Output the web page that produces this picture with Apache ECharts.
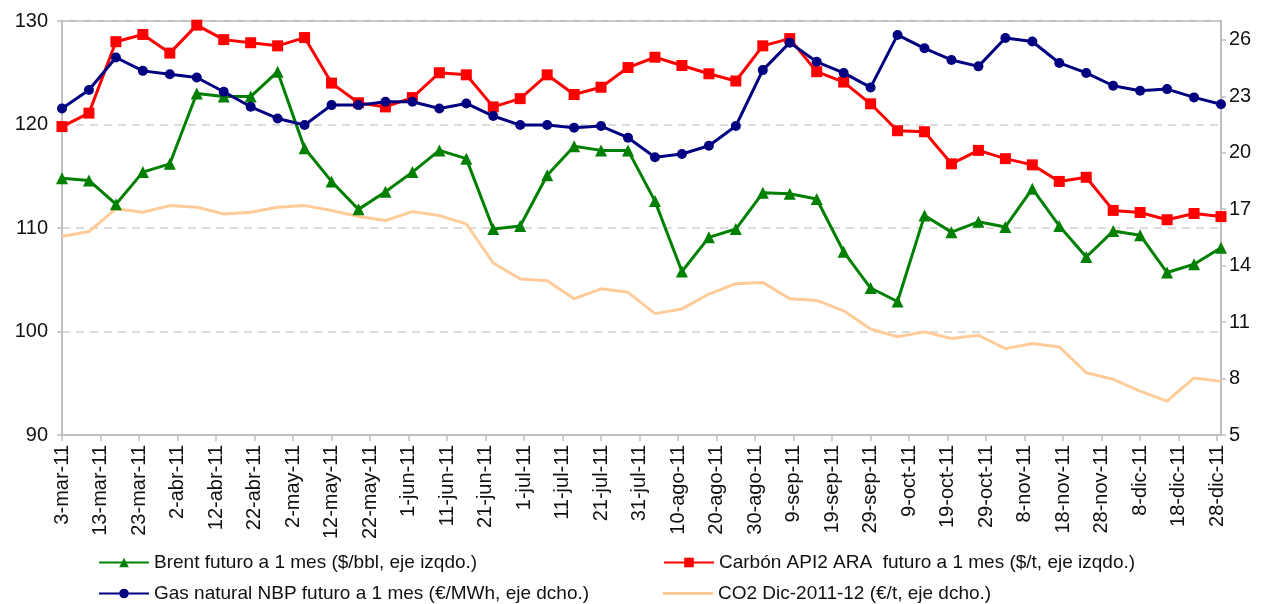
<!DOCTYPE html>
<html>
<head>
<meta charset="utf-8">
<script src="https://cdn.jsdelivr.net/npm/echarts@6/dist/echarts.min.js"></script>
<style>
  html, body { margin: 0; padding: 0; background: #fff; }
  #chart { width: 1263px; height: 604px; }
</style>
</head>
<body>
<div id="chart"></div>
<script>
// fechas semanales de los datos
var dates = [
  '2011-03-03', '2011-03-10', '2011-03-17', '2011-03-24', '2011-03-31',
  '2011-04-07', '2011-04-14', '2011-04-21', '2011-04-28',
  '2011-05-05', '2011-05-12', '2011-05-19', '2011-05-26',
  '2011-06-02', '2011-06-09', '2011-06-16', '2011-06-23', '2011-06-30',
  '2011-07-07', '2011-07-14', '2011-07-21', '2011-07-28',
  '2011-08-04', '2011-08-11', '2011-08-18', '2011-08-25',
  '2011-09-01', '2011-09-08', '2011-09-15', '2011-09-22', '2011-09-29',
  '2011-10-06', '2011-10-13', '2011-10-20', '2011-10-27',
  '2011-11-03', '2011-11-10', '2011-11-17', '2011-11-24',
  '2011-12-01', '2011-12-08', '2011-12-15', '2011-12-22', '2011-12-29'
];

// etiquetas del eje X, una cada 10 dias desde 3-mar-11
var xTickLabels = [
  '3-mar-11', '13-mar-11', '23-mar-11', '2-abr-11', '12-abr-11', '22-abr-11',
  '2-may-11', '12-may-11', '22-may-11', '1-jun-11', '11-jun-11', '21-jun-11',
  '1-jul-11', '11-jul-11', '21-jul-11', '31-jul-11', '10-ago-11', '20-ago-11',
  '30-ago-11', '9-sep-11', '19-sep-11', '29-sep-11', '9-oct-11', '19-oct-11',
  '29-oct-11', '8-nov-11', '18-nov-11', '28-nov-11', '8-dic-11', '18-dic-11',
  '28-dic-11'
];

// Brent ($/bbl, eje izqdo.)
var brent = [
  114.8, 114.6, 112.3, 115.4, 116.2, 123.0, 122.7, 122.7, 125.1, 117.7,
  114.5, 111.8, 113.5, 115.4, 117.5, 116.7, 109.9, 110.2, 115.1, 117.9,
  117.5, 117.5, 112.6, 105.8, 109.1, 109.9, 113.4, 113.3, 112.8, 107.7,
  104.2, 102.9, 111.2, 109.6, 110.6, 110.1, 113.8, 110.2, 107.2, 109.7,
  109.3, 105.7, 106.5, 108.1
];

// Carbon API2 ARA ($/t, eje izqdo.)
var carbon = [
  119.8, 121.1, 128.0, 128.7, 126.9, 129.6, 128.2, 127.9, 127.6, 128.4,
  124.0, 122.1, 121.7, 122.6, 125.0, 124.8, 121.7, 122.5, 124.8, 122.9,
  123.6, 125.5, 126.5, 125.7, 124.9, 124.2, 127.6, 128.3, 125.1, 124.1,
  122.0, 119.4, 119.3, 116.2, 117.5, 116.7, 116.1, 114.5, 114.9, 111.7,
  111.5, 110.8, 111.4, 111.1
];

// Gas natural NBP (€/MWh, eje dcho.)
var gas = [
  22.35, 23.33, 25.06, 24.35, 24.17, 24.00, 23.24, 22.44, 21.82, 21.47,
  22.53, 22.53, 22.71, 22.71, 22.35, 22.62, 21.95, 21.47, 21.47, 21.33,
  21.42, 20.80, 19.76, 19.93, 20.37, 21.42, 24.39, 25.85, 24.83, 24.24,
  23.47, 26.26, 25.55, 24.93, 24.59, 26.10, 25.91, 24.77, 24.24, 23.56,
  23.29, 23.38, 22.94, 22.58
];

// CO2 Dic-2011-12 (€/t, eje dcho.)
var co2 = [
  15.55, 15.81, 17.02, 16.84, 17.19, 17.10, 16.75, 16.84, 17.10, 17.19,
  16.93, 16.61, 16.40, 16.87, 16.66, 16.22, 14.14, 13.29, 13.20, 12.24,
  12.77, 12.58, 11.45, 11.70, 12.49, 13.04, 13.11, 12.24, 12.15, 11.60,
  10.63, 10.22, 10.48, 10.13, 10.30, 9.59, 9.86, 9.68, 8.31, 7.96,
  7.33, 6.80, 8.03, 7.85
];

var names = [
  'Brent futuro a 1 mes ($/bbl, eje izqdo.)',
  'Carbón API2 ARA  futuro a 1 mes ($/t, eje izqdo.)',
  'Gas natural NBP futuro a 1 mes (€/MWh, eje dcho.)',
  'CO2 Dic-2011-12 (€/t, eje dcho.)'
];

// dias desde 3-mar-11
var t0 = Date.UTC(2011, 2, 3);
function dayOf(s) {
  var p = s.split('-');
  return Math.round((Date.UTC(+p[0], +p[1] - 1, +p[2]) - t0) / 86400000);
}
function pairs(vals) {
  return vals.map(function (v, i) { return [dayOf(dates[i]), v]; });
}

var font = 'Liberation Sans, Arial, sans-serif';
var gray = '#bfbfbf';

// una leyenda por serie, en dos columnas
function legendItem(item, left, top, h) {
  return {
    data: [item], left: left, top: top, padding: 0,
    itemWidth: 50, itemHeight: h || 12, itemGap: 4,
    textStyle: { fontSize: 19, color: '#111', fontFamily: font }
  };
}

var chart = echarts.init(document.getElementById('chart'));
chart.setOption({
  animation: false,
  textStyle: { fontFamily: font },
  grid: {
    left: 62, right: 42, top: 21, bottom: 169,
    show: true, borderColor: gray, borderWidth: 2
  },
  legend: [
    legendItem(names[0], 98, 553),
    legendItem(names[2], 98, 584),
    legendItem(names[1], 663, 553),
    legendItem({ name: names[3], icon: 'rect' }, 663, 584, 3)
  ],
  xAxis: {
    type: 'value', min: 0, max: 301, interval: 10,
    splitLine: { show: false },
    axisLine: { lineStyle: { color: gray, width: 2 } },
    axisTick: { length: 6, lineStyle: { color: gray, width: 1.5 } },
    axisLabel: {
      rotate: 90, fontSize: 20, color: '#111', margin: 10,
      showMaxLabel: false,
      formatter: function (v) {
        var i = Math.round(v / 10);
        return (v % 10 === 0 && xTickLabels[i]) ? xTickLabels[i] : '';
      }
    }
  },
  yAxis: [
    {
      type: 'value', min: 90, max: 130, interval: 10,
      axisLine: { show: true, lineStyle: { color: gray, width: 2 } },
      axisTick: { show: true, length: 5, lineStyle: { color: gray, width: 1.5 } },
      axisLabel: { fontSize: 20, color: '#111', margin: 14 },
      splitLine: { show: true, lineStyle: { color: '#d0d0d0', type: [8, 6], width: 1.5 } }
    },
    {
      type: 'value', min: 5, max: 27, interval: 3,
      axisLine: { show: true, lineStyle: { color: gray, width: 2 } },
      axisTick: { show: true, length: 5, lineStyle: { color: gray, width: 1.5 } },
      axisLabel: { fontSize: 20, color: '#111', margin: 8, showMaxLabel: false },
      splitLine: { show: false }
    }
  ],
  series: [
    {
      name: names[0], type: 'line', yAxisIndex: 0, data: pairs(brent),
      symbol: 'triangle', symbolSize: 12, z: 4,
      itemStyle: { color: '#008000' }, lineStyle: { color: '#008000', width: 3 }
    },
    {
      name: names[1], type: 'line', yAxisIndex: 0, data: pairs(carbon),
      symbol: 'rect', symbolSize: 11, z: 3,
      itemStyle: { color: '#ff0000' }, lineStyle: { color: '#ff0000', width: 3 }
    },
    {
      name: names[2], type: 'line', yAxisIndex: 1, data: pairs(gas),
      symbol: 'circle', symbolSize: 10, z: 5,
      itemStyle: { color: '#000080' }, lineStyle: { color: '#000080', width: 3 }
    },
    {
      name: names[3], type: 'line', yAxisIndex: 1, data: pairs(co2),
      showSymbol: false, symbol: 'none', z: 2,
      itemStyle: { color: '#ffcc99' }, lineStyle: { color: '#ffcc99', width: 3 }
    }
  ]
});
</script>
</body>
</html>
